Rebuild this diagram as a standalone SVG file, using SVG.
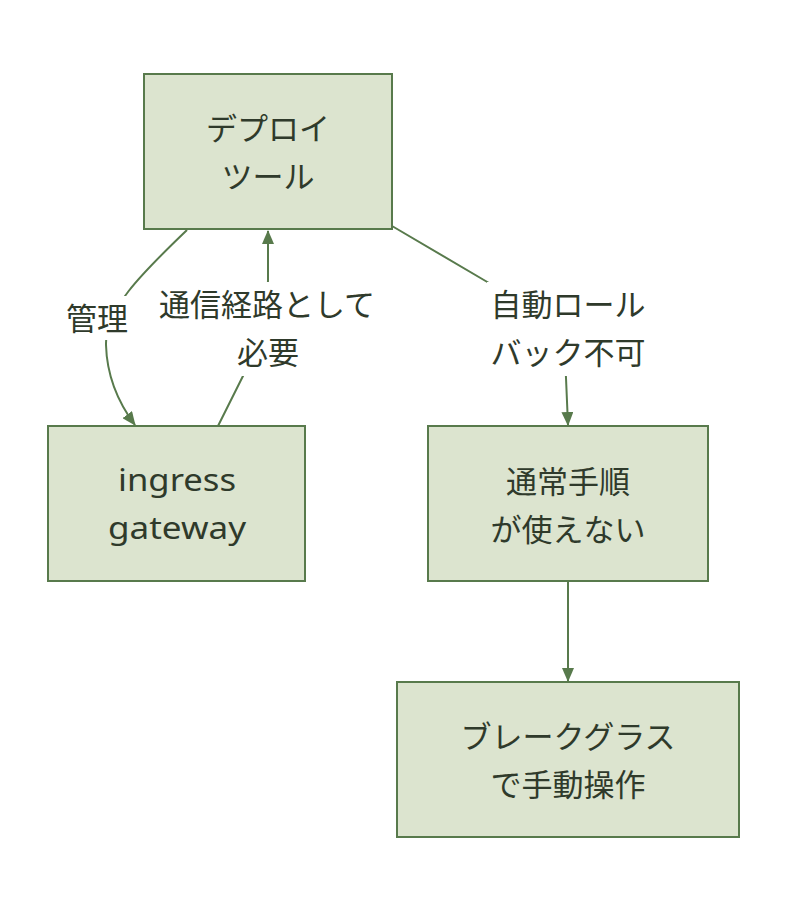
<svg xmlns="http://www.w3.org/2000/svg" width="788" height="916" viewBox="0 0 788 916">
<style>
.node rect{fill:#dce4cf;stroke:#587a4c;stroke-width:2}
text{font-family:"Noto Sans CJK JP","Noto Sans",sans-serif;font-size:31px;fill:#2f3a2b;text-anchor:middle;dominant-baseline:central}
.latin{font-family:"Noto Sans","Noto Sans CJK JP",sans-serif;font-size:31px}
.edge{fill:none;stroke:#587a4c;stroke-width:2}
.lbl{fill:#ffffff}
</style>
<defs>
<marker id="arr" viewBox="0 0 14 12" refX="13" refY="6" markerWidth="14" markerHeight="12" markerUnits="userSpaceOnUse" orient="auto">
<path d="M0,0 L14,6 L0,12 Z" fill="#587a4c"/>
</marker>
</defs>
<rect width="788" height="916" fill="#ffffff"/>
<g id="connectors">
<path class="edge" d="M187,230 C140,275 105,310 106,345 C107,380 120,405 135,425" marker-end="url(#arr)"/>
<path class="edge" d="M218,426 L245,372 C262,340 268,300 268,280 L268,231" marker-end="url(#arr)"/>
<path class="edge" d="M392,226 L489,283 C540,313 566,340 566,378 L568,425" marker-end="url(#arr)"/>
<path class="edge" d="M568,581 L568,681" marker-end="url(#arr)"/>
<g id="label-kanri"><rect class="lbl" x="62" y="296" width="70" height="44"/><text x="97" y="316">管理</text></g>
<g id="label-tsushin"><rect class="lbl" x="154" y="282" width="226" height="94"/><text x="267" y="302">通信経路として</text><text x="268" y="350">必要</text></g>
<g id="label-rollback"><rect class="lbl" x="487" y="282" width="162" height="94"/><text x="568" y="302">自動ロール</text><text x="568" y="350">バック不可</text></g>
</g>
<g id="deploy" class="node"><rect x="144" y="74" width="248" height="155"/><text x="268" y="126">デプロイ</text><text x="268" y="174">ツール</text></g>
<g id="ingress" class="node"><rect x="48" y="426" width="257" height="155"/><text class="latin" x="177" y="479" textLength="118" lengthAdjust="spacingAndGlyphs">ingress</text><text class="latin" x="177" y="527" textLength="138" lengthAdjust="spacingAndGlyphs">gateway</text></g>
<g id="normal" class="node"><rect x="428" y="426" width="280" height="155"/><text x="568" y="479">通常手順</text><text x="568" y="527">が使えない</text></g>
<g id="breakglass" class="node"><rect x="397" y="682" width="342" height="155"/><text x="568" y="734">ブレークグラス</text><text x="568" y="782">で手動操作</text></g>
</svg>
